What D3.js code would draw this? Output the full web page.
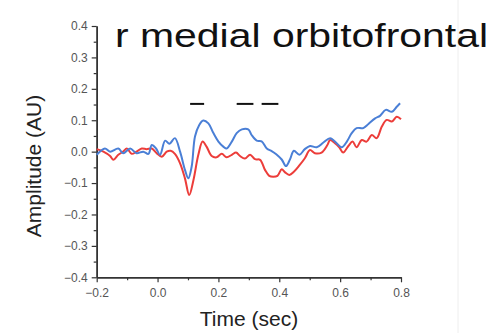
<!DOCTYPE html>
<html>
<head>
<meta charset="utf-8">
<script src="https://cdn.jsdelivr.net/npm/d3@7"></script>
<style>
  html, body { margin: 0; padding: 0; background: #fff; }
  svg { display: block; font-family: "Liberation Sans", Arial, sans-serif; }
</style>
</head>
<body>
<div id="chart"></div>
<script>
// ---- data ----
const blueTime = [-0.2, -0.173, -0.156, -0.129, -0.113, -0.09, -0.069, -0.047, -0.03, -0.019, -0.005, 0.008, 0.025, 0.039, 0.057, 0.074, 0.09, 0.101, 0.112, 0.123, 0.137, 0.15, 0.167, 0.183, 0.2, 0.216, 0.227, 0.244, 0.26, 0.277, 0.298, 0.309, 0.326, 0.342, 0.359, 0.375, 0.39, 0.408, 0.422, 0.435, 0.448, 0.466, 0.484, 0.501, 0.523, 0.545, 0.567, 0.583, 0.605, 0.622, 0.638, 0.654, 0.676, 0.693, 0.715, 0.731, 0.75, 0.77, 0.786, 0.797];
const blueAmp = [-0.01, 0.01, 0.0, 0.01, -0.005, 0.01, -0.005, 0, -0.007, 0.021, 0.01, -0.01, 0.035, 0.025, 0.043, 0, -0.058, -0.085, -0.048, 0.048, 0.085, 0.099, 0.09, 0.06, 0.032, 0.016, 0.01, 0.032, 0.059, 0.071, 0.071, 0.053, 0.035, 0.033, 0.01, 0.002, -0.008, -0.025, -0.046, -0.025, 0.003, -0.01, 0.008, 0.018, 0.014, 0.029, 0.043, 0.032, 0.014, 0.032, 0.059, 0.075, 0.075, 0.088, 0.106, 0.114, 0.133, 0.127, 0.143, 0.154];

const redTime = [-0.2, -0.178, -0.156, -0.145, -0.129, -0.113, -0.101, -0.085, -0.069, -0.052, -0.036, -0.019, -0.003, 0.014, 0.03, 0.043, 0.057, 0.074, 0.09, 0.104, 0.118, 0.134, 0.148, 0.161, 0.178, 0.194, 0.211, 0.227, 0.244, 0.258, 0.271, 0.287, 0.304, 0.32, 0.337, 0.353, 0.367, 0.38, 0.394, 0.408, 0.419, 0.433, 0.448, 0.466, 0.484, 0.501, 0.517, 0.539, 0.558, 0.567, 0.583, 0.597, 0.61, 0.627, 0.641, 0.654, 0.671, 0.687, 0.704, 0.72, 0.737, 0.753, 0.77, 0.786, 0.8];
const redAmp = [0.008, 0, -0.014, -0.026, -0.01, 0, 0.01, -0.007, 0, 0.01, 0.008, 0.01, -0.005, -0.016, 0, 0.003, -0.007, -0.037, -0.085, -0.138, -0.09, -0.01, 0.032, 0.016, -0.014, -0.018, -0.007, -0.018, -0.01, -0.003, -0.014, -0.022, -0.01, -0.024, -0.026, -0.058, -0.077, -0.08, -0.077, -0.056, -0.066, -0.074, -0.064, -0.044, -0.021, 0.005, -0.005, -0.003, 0.021, 0.037, 0.027, 0.014, -0.003, 0.018, 0.032, 0.014, 0.037, 0.032, 0.053, 0.043, 0.08, 0.101, 0.096, 0.111, 0.103];

// significance bars: [start, end] in sec, drawn at sigLevel
const sigStart = [0.107, 0.26, 0.342];
const sigEnd = [0.153, 0.315, 0.397];
const sigLevel = 0.152;

const xTicks = [-0.2, 0.0, 0.2, 0.4, 0.6, 0.8];
const yTicks = [-0.4, -0.3, -0.2, -0.1, 0.0, 0.1, 0.2, 0.3, 0.4];

// ---- layout ----
const W = 497, H = 333;
const svg = d3.select("#chart").append("svg").attr("width", W).attr("height", H);

const x = d3.scaleLinear().domain([-0.2, 0.8]).range([96.7, 401]);
const y = d3.scaleLinear().domain([-0.4, 0.4]).range([277.3, 26]);

// faint page edge
svg.append("line").attr("x1", 458).attr("x2", 458).attr("y1", 0).attr("y2", H)
  .attr("stroke", "#eeeeee").attr("stroke-width", 1);

// axes
const axisColor = "#333";
const tickColor = "#555";

const xAxis = svg.append("g").attr("transform", `translate(0,${y(-0.4)})`)
  .call(d3.axisBottom(x).tickValues(xTicks).tickFormat(d3.format(".1f")).tickSize(5).tickSizeOuter(0));
const xMinor = svg.append("g").attr("transform", `translate(0,${y(-0.4)})`)
  .call(d3.axisBottom(x).tickValues(d3.range(-0.1, 0.8, 0.2)).tickFormat("").tickSize(3).tickSizeOuter(0));

const yAxis = svg.append("g").attr("transform", `translate(${x(-0.2)},0)`)
  .call(d3.axisLeft(y).tickValues(yTicks).tickFormat(d3.format(".1f")).tickSize(5).tickSizeOuter(0));
const yMinor = svg.append("g").attr("transform", `translate(${x(-0.2)},0)`)
  .call(d3.axisLeft(y).tickValues(d3.range(-0.35, 0.4, 0.1)).tickFormat("").tickSize(3).tickSizeOuter(0));

[xAxis, xMinor, yAxis, yMinor].forEach(g => {
  g.select(".domain").attr("stroke", axisColor).attr("stroke-width", 1.5);
  g.selectAll(".tick line").attr("stroke", axisColor).attr("stroke-width", 1.2);
  g.selectAll("text").attr("fill", tickColor).attr("font-size", "12px")
    .attr("font-family", "Liberation Sans, Arial, sans-serif");
});
xAxis.selectAll("text").attr("dy", "0.95em");
yAxis.selectAll("text").attr("dx", "-1px");

// axis labels
svg.append("text").attr("x", 249).attr("y", 326)
  .attr("text-anchor", "middle").attr("font-size", "21px").attr("fill", "#222")
  .text("Time (sec)");
svg.append("text").attr("transform", "translate(41,166) rotate(-90)")
  .attr("text-anchor", "middle").attr("font-size", "21px").attr("fill", "#222")
  .text("Amplitude (AU)");

// title
svg.append("text").attr("x", 115).attr("y", 47)
  .attr("font-size", "33px").attr("fill", "#111")
  .attr("textLength", 373).attr("lengthAdjust", "spacingAndGlyphs")
  .text("r medial orbitofrontal");

// significance bars
svg.append("g").selectAll("line").data(sigStart).join("line")
  .attr("x1", (d) => x(d))
  .attr("x2", (d, i) => x(sigEnd[i]))
  .attr("y1", y(sigLevel)).attr("y2", y(sigLevel))
  .attr("stroke", "#111").attr("stroke-width", 2);

// series
const line = d3.line()
  .x(d => x(d[0])).y(d => y(d[1]))
  .curve(d3.curveCatmullRom.alpha(0.5));

const redData = redTime.map((t, i) => [t, redAmp[i]]);
const blueData = blueTime.map((t, i) => [t, blueAmp[i]]);

svg.append("path").datum(redData).attr("d", line)
  .attr("fill", "none").attr("stroke", "#ec3d3a").attr("stroke-width", 2);
svg.append("path").datum(blueData).attr("d", line)
  .attr("fill", "none").attr("stroke", "#4a7fd6").attr("stroke-width", 2);
</script>
</body>
</html>
